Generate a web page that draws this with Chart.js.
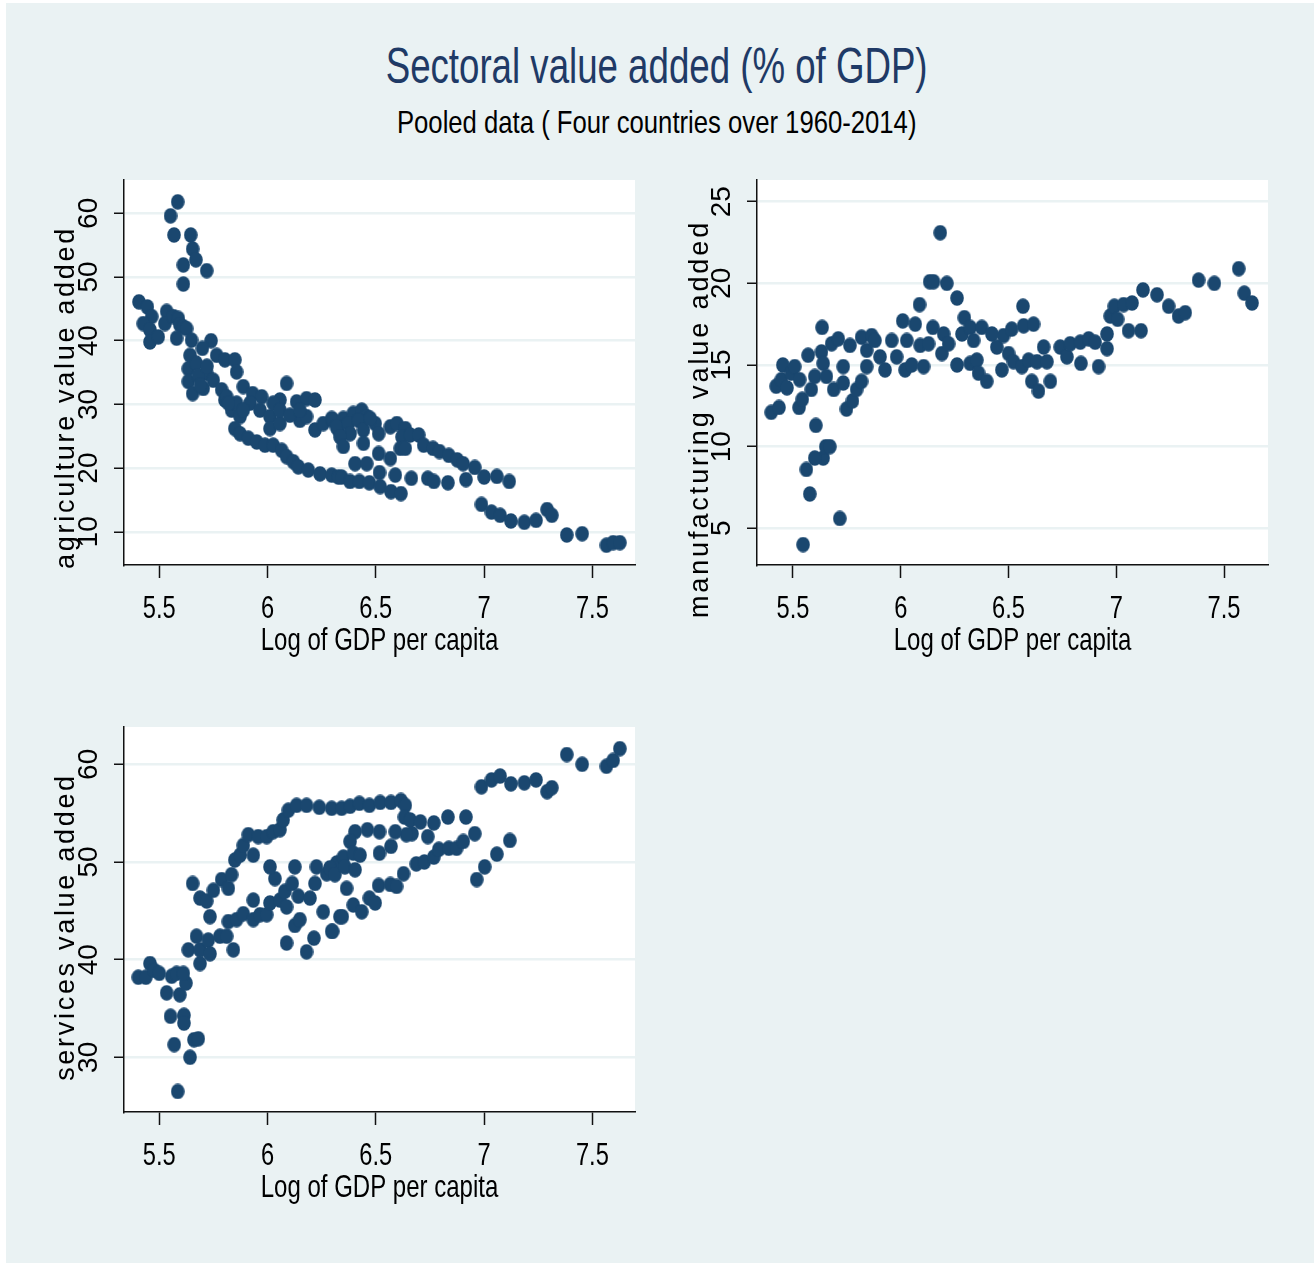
<!DOCTYPE html>
<html>
<head>
<meta charset="utf-8">
<script src="https://cdn.jsdelivr.net/npm/chart.js@4.4.1/dist/chart.umd.min.js"></script>
<style>
  body { margin: 0; background: #fff; width: 1314px; height: 1265px; position: relative; overflow: hidden; }
  #frame { position: absolute; left: 6px; top: 3px; right: 0; bottom: 2px; background: #eaf2f3; }
  .head { position: absolute; left: 0; right: 0; text-align: center; line-height: 1; white-space: nowrap;
          font-family: "Liberation Sans", Arial, sans-serif; }
  .head span { display: inline-block; }
  #title { top: 41px; font-size: 50px; color: #1f3a66; }
  #title span { transform: scaleX(0.733); }
  #subtitle { top: 107px; font-size: 31.5px; color: #000; }
  #subtitle span { transform: scaleX(0.815); }
  canvas { position: absolute; }
</style>
</head>
<body>
<div id="frame"></div>
<div id="title" class="head"><span>Sectoral value added (% of GDP)</span></div>
<div id="subtitle" class="head"><span>Pooled data ( Four countries over 1960-2014)</span></div>
<canvas id="agriChart" width="660" height="520" style="left:0;top:160px"></canvas>
<canvas id="manuChart" width="660" height="520" style="left:633px;top:160px"></canvas>
<canvas id="servChart" width="660" height="520" style="left:0;top:707px"></canvas>
<script>
// ---- data: [log GDP per capita, value added % of GDP] ----
const agriculturePoints = [
  [5.406,46.1],[5.445,45.3],[5.465,43.8],[5.426,42.7],[5.457,41.7],[5.457,39.8],[5.495,40.6],[5.534,44.6],
  [5.526,42.7],[5.565,43.8],[5.588,43.5],[5.595,42.5],[5.611,42.2],[5.58,40.4],[5.626,41.9],[5.649,40.1],
  [5.585,61.8],[5.552,59.6],[5.568,56.6],[5.645,56.6],[5.654,54.4],[5.669,52.7],[5.611,51.9],[5.719,51.0],[5.611,48.9],
  [5.739,40.0],[5.699,38.8],[5.642,37.7],[5.634,35.6],[5.634,33.6],[5.654,31.7],[5.703,32.5],[5.719,34.9],
  [5.765,37.7],[5.803,37.0],[5.849,37.0],[5.857,35.1],[5.749,33.8],[5.788,32.3],[5.803,30.7],[5.834,29.1],
  [5.873,28.1],[5.849,26.2],[5.873,25.4],[5.888,32.8],[5.931,31.7],[5.973,31.2],[5.919,30.2],[5.965,29.1],
  [6.011,28.1],[6.011,26.2],[6.057,27.0],[6.088,33.3],[6.057,30.7],[6.134,30.4],[6.180,30.9],[6.219,30.7],
  [6.149,27.5],[6.219,26.0],[6.257,27.0],[6.296,27.8],[6.327,26.0],
  [5.67,36.5],[5.68,34.5],[5.72,36.0],[5.69,33.0],[5.811,31.2],[5.857,30.2],[5.888,29.1],[5.819,30.2],
  [6.026,30.2],[6.057,29.1],[6.103,28.3],[6.18,28.1],[6.149,29.1],
  [5.911,24.7],[5.95,24.1],[5.988,23.6],[6.026,23.6],[6.065,22.8],[6.088,21.8],[6.119,21.0],[6.142,20.2],
  [6.188,19.7],[6.242,19.1],[6.296,18.9],[6.327,18.6],
  [6.303,27.5],[6.35,27.8],[6.396,28.6],[6.435,29.1],[6.458,28.1],[6.497,27.0],[6.513,25.4],[6.567,26.5],
  [6.597,27.0],[6.636,26.2],[6.621,24.9],[6.659,25.2],[6.698,25.2],[6.721,23.6],[6.764,23.1],[6.794,22.6],
  [6.837,22.0],[6.876,21.3],[6.903,20.7],[6.957,20.1],[7.0,18.6],[7.059,18.7],[7.116,17.9],
  [6.318,26.5],[6.373,27.0],[6.42,27.5],[6.381,25.4],[6.335,24.9],[6.443,26.0],[6.474,27.8],
  [6.35,23.4],[6.404,20.7],[6.458,20.7],[6.443,23.9],[6.513,22.3],[6.567,21.5],[6.613,23.1],[6.636,23.1],
  [6.342,18.6],[6.381,17.9],[6.424,17.9],[6.470,17.7],[6.517,19.3],[6.52,17.1],[6.57,16.3],[6.616,16.0],
  [6.59,18.9],[6.664,18.4],[6.740,18.4],[6.768,17.9],[6.833,17.7],[6.916,18.2],
  [6.988,14.3],[7.034,13.1],[7.074,12.6],[7.124,11.7],[7.186,11.5],[7.240,11.8],[7.291,13.5],[7.313,12.6],
  [7.382,9.5],[7.453,9.7],[7.565,7.9],[7.596,8.3],[7.627,8.3]
];

const manufacturingPoints = [
  [5.399,12.1],[5.435,12.4],[5.422,13.7],[5.446,14.1],[5.453,15.0],[5.472,13.6],[5.492,14.5],[5.508,14.9],
  [5.531,14.1],[5.528,12.4],[5.543,12.9],[5.570,15.6],[5.585,13.5],[5.601,14.3],[5.635,17.3],[5.632,15.8],
  [5.640,15.1],[5.655,14.3],[5.679,16.3],[5.689,13.5],[5.710,16.6],[5.733,14.9],[5.733,13.9],[5.748,12.3],
  [5.776,12.8],[5.795,13.5],[5.818,14.0],[5.764,16.2],[5.818,16.7],[5.842,15.9],[5.865,16.8],[5.880,16.5],
  [5.842,14.9],[5.904,15.5],[5.927,14.7],[5.958,16.5],[5.981,15.5],[6.009,17.7],[6.028,16.5],[6.020,14.7],
  [6.051,15.0],[6.067,17.5],[6.087,18.7],[6.090,16.2],[6.106,14.9],[6.129,16.3],[6.134,20.1],[6.152,20.1],
  [6.149,17.3],[6.183,23.1],[6.214,20.0],[6.199,16.9],[6.191,15.7],[6.222,16.3],[6.261,19.1],[6.261,15.0],
  [6.295,17.9],[6.284,16.9],
  [5.606,11.3],[5.640,9.3],[5.601,9.3],[5.652,10.0],[5.671,10.0],[5.562,8.6],[5.578,7.1],[5.717,5.6],[5.547,4.0],
  [6.322,17.3],[6.376,17.3],[6.338,16.5],[6.322,15.1],[6.353,15.3],[6.361,14.5],[6.399,14.0],[6.423,16.9],
  [6.446,16.1],[6.469,14.7],[6.477,16.8],[6.5,15.7],[6.515,17.2],[6.523,15.2],[6.562,14.9],[6.570,17.4],
  [6.567,18.6],[6.616,17.5],[6.593,15.3],[6.608,14.0],[6.639,13.4],[6.632,15.2],[6.663,16.1],[6.678,15.2],
  [6.694,14.0],[6.740,16.1],[6.771,15.5],[6.786,16.3],[6.833,16.4],[6.872,16.6],[6.902,16.4],[6.836,15.1],
  [6.918,14.9],[6.957,16.9],[6.957,16.0],[6.972,18.0],[6.991,18.6],[7.006,17.8],[7.034,18.7],[7.073,18.8],
  [7.057,17.1],[7.115,17.1],[7.124,19.6],[7.189,19.3],[7.243,18.6],[7.289,18.0],[7.320,18.2],[7.382,20.2],
  [7.455,20.0],[7.568,20.9],[7.594,19.4],[7.630,18.8]
];

const servicesPoints = [
  [5.403,38.2],[5.438,38.2],[5.457,39.6],[5.477,38.9],[5.5,38.6],[5.534,36.6],[5.557,38.3],[5.580,38.6],
  [5.595,36.4],[5.623,37.6],[5.611,38.6],[5.552,34.2],[5.614,34.3],[5.614,33.5],[5.569,31.3],[5.660,31.8],
  [5.680,31.9],[5.642,30.0],[5.585,26.5],
  [5.634,41.0],[5.672,42.4],[5.688,41.0],[5.688,39.6],[5.726,42.0],[5.734,40.6],[5.780,42.4],[5.811,42.4],
  [5.842,41.0],[5.819,43.9],[5.857,44.1],[5.888,44.7],[5.934,44.1],[5.934,46.1],[5.965,44.6],[5.996,44.6],
  [6.011,45.8],[6.057,46.1],[6.088,45.4],[6.080,47.0],[6.034,48.3],[6.011,49.5],[6.114,47.8],[6.088,41.7],
  [6.126,43.5],[6.149,44.1],[6.142,46.5],[6.126,49.5],[6.180,40.8],[6.196,46.3],[6.214,42.2],[6.219,47.8],
  [6.226,49.5],[6.257,44.9],[6.296,42.9],[6.273,48.8],[6.319,49.9],[6.334,44.4],
  [5.654,47.8],[5.688,46.3],[5.719,46.0],[5.734,44.4],[5.750,47.1],[5.788,48.2],[5.819,47.3],[5.834,48.7],
  [5.849,50.2],[5.873,50.7],[5.888,51.7],[5.911,52.8],[5.934,50.7],[5.957,52.6],[5.996,52.6],[6.026,53.1],
  [6.057,53.3],[6.072,54.3],[6.096,55.3],[6.134,55.8],[6.180,55.8],[6.239,55.6],
  [6.296,55.5],[6.342,55.5],[6.381,55.7],[6.424,56.0],[6.470,55.8],[6.520,56.1],[6.570,56.1],[6.616,56.3],
  [6.636,55.8],[6.632,54.6],[6.659,54.3],[6.706,54.1],[6.667,52.9],[6.641,52.8],[6.590,53.1],[6.517,53.1],
  [6.461,53.3],[6.404,53.1],[6.381,52.1],[6.768,54.0],[6.740,52.6],[6.833,54.6],[6.916,54.6],[6.957,52.9],
  [6.35,50.5],[6.396,50.9],[6.427,50.7],[6.288,49.4],[6.311,48.7],[6.357,49.5],[6.404,49.2],[6.365,47.3],
  [6.517,50.9],[6.570,51.6],
  [6.300,42.9],[6.345,44.4],[6.396,45.6],[6.435,44.9],[6.470,46.3],[6.497,45.8],[6.513,47.6],[6.567,47.7],
  [6.596,47.5],[6.628,48.8],[6.687,49.8],[6.724,50.0],[6.768,50.5],[6.791,51.3],[6.837,51.4],[6.873,51.4],
  [6.904,52.1],
  [6.966,48.2],[7.003,49.5],[7.059,50.8],[7.119,52.2],[6.988,57.7],[7.034,58.4],[7.074,58.8],[7.124,58.0],
  [7.186,58.1],[7.240,58.4],[7.291,57.2],[7.313,57.6],[7.382,61.0],[7.453,60.0],[7.565,59.8],[7.596,60.4],
  [7.627,61.6]
];

// ---- tick labels ----
const gdpTicks = [5.5, 6, 6.5, 7, 7.5];
const agricultureTicks = [10, 20, 30, 40, 50, 60];
const manufacturingTicks = [5, 10, 15, 20, 25];
const servicesTicks = [30, 40, 50, 60];

const NAVY = "#1a476f";
const BG = "#eaf2f3";
const FONT = '"Liberation Sans", Arial, sans-serif';

/** Stata-like marker: slightly tall filled ellipse */
function makeMarker() {
  const c = document.createElement("canvas");
  c.width = 14;
  c.height = 16;
  const g = c.getContext("2d");
  g.fillStyle = NAVY;
  g.beginPath();
  g.ellipse(7, 8, 6.8, 7.7, 0, 0, Math.PI * 2);
  g.fill();
  return c;
}
const marker = makeMarker();

// draw text squeezed horizontally (narrow Stata font look)
function narrowText(ctx, text, x, y, squeeze) {
  ctx.save();
  ctx.translate(x, y);
  ctx.scale(squeeze, 1);
  ctx.fillText(text, 0, 0);
  ctx.restore();
}

// white plot region, x labels/title in narrow type, rotated y title
const panelDecor = {
  id: "panelDecor",
  beforeDraw(chart) {
    const { ctx, chartArea: a } = chart;
    ctx.save();
    ctx.fillStyle = "#fff";
    ctx.fillRect(a.left, a.top, a.right - a.left, a.bottom - a.top);
    ctx.restore();
  },
  afterDraw(chart, args, opts) {
    const ctx = chart.ctx;
    const xs = chart.scales.x;

    ctx.save();
    ctx.fillStyle = "#000";
    ctx.textAlign = "center";
    ctx.textBaseline = "alphabetic";
    ctx.font = "32px " + FONT;
    gdpTicks.forEach((v) => {
      narrowText(ctx, String(v), xs.getPixelForValue(v), xs.top + 52.5, 0.74);
    });
    narrowText(ctx, "Log of GDP per capita", (xs.left + xs.right) / 2, xs.top + 84.5, 0.75);
    ctx.restore();

    // y title
    ctx.save();
    ctx.font = "27px " + FONT;
    ctx.letterSpacing = opts.spacing + "px";
    ctx.fillStyle = "#000";
    ctx.translate(opts.x, opts.y);
    ctx.rotate(-Math.PI / 2);
    ctx.textAlign = "center";
    ctx.textBaseline = "alphabetic";
    ctx.fillText(opts.text, 0, 0);
    ctx.restore();
  },
};

function makePanel(canvasId, points, yTicks, yMin, yMax, xMin, xMax, title) {
  const ctx = document.getElementById(canvasId);
  return new Chart(ctx, {
    type: "scatter",
    data: {
      datasets: [
        {
          data: points.map((p) => ({ x: p[0], y: p[1] })),
          pointStyle: marker,
          pointRadius: 7,
          pointHoverRadius: 7,
        },
      ],
    },
    options: {
      responsive: false,
      animation: false,
      layout: { padding: { top: 20, right: 25, bottom: 23, left: 0 } },
      plugins: {
        legend: { display: false },
        tooltip: { enabled: false },
        panelDecor: title,
      },
      scales: {
        x: {
          type: "linear",
          min: xMin,
          max: xMax,
          afterBuildTicks: (axis) => {
            axis.ticks = gdpTicks.map((v) => ({ value: v }));
          },
          afterFit: (scale) => {
            scale.height = 92;
            scale.paddingLeft = 0;
            scale.paddingRight = 0;
          },
          border: { display: true, color: "#111", width: 1.5 },
          grid: {
            drawOnChartArea: false,
            drawTicks: true,
            tickLength: 13,
            tickColor: "#111",
            tickWidth: 1.5,
          },
          ticks: { display: false, autoSkip: false },
          title: { display: false },
        },
        y: {
          type: "linear",
          min: yMin,
          max: yMax,
          afterBuildTicks: (axis) => {
            axis.ticks = yTicks.map((v) => ({ value: v }));
          },
          afterFit: (scale) => {
            scale.width = 124;
            scale.paddingTop = 0;
            scale.paddingBottom = 0;
          },
          border: { display: true, color: "#111", width: 1.5 },
          grid: {
            color: BG,
            lineWidth: 2.5,
            drawTicks: true,
            tickLength: 10,
            tickColor: "#111",
            tickWidth: 1.5,
          },
          ticks: {
            font: { family: FONT, size: 28 },
            color: "#000",
            padding: 9,
            minRotation: 90,
            maxRotation: 90,
            crossAlign: "center",
            autoSkip: false,
            callback: (v) => String(v),
          },
        },
      },
    },
    plugins: [panelDecor],
  });
}

makePanel("agriChart", agriculturePoints, agricultureTicks, 4.79, 65.23, 5.337, 7.697,
  { text: "agriculture value added", x: 74, y: 237.5, spacing: 2.7 });
makePanel("manuChart", manufacturingPoints, manufacturingTicks, 2.75, 26.33, 5.333, 7.704,
  { text: "manufacturing value added", x: 75, y: 259, spacing: 2.9 });
makePanel("servChart", servicesPoints, servicesTicks, 24.4, 63.82, 5.337, 7.697,
  { text: "services value added", x: 74, y: 220, spacing: 2.7 });
</script>
</body>
</html>
